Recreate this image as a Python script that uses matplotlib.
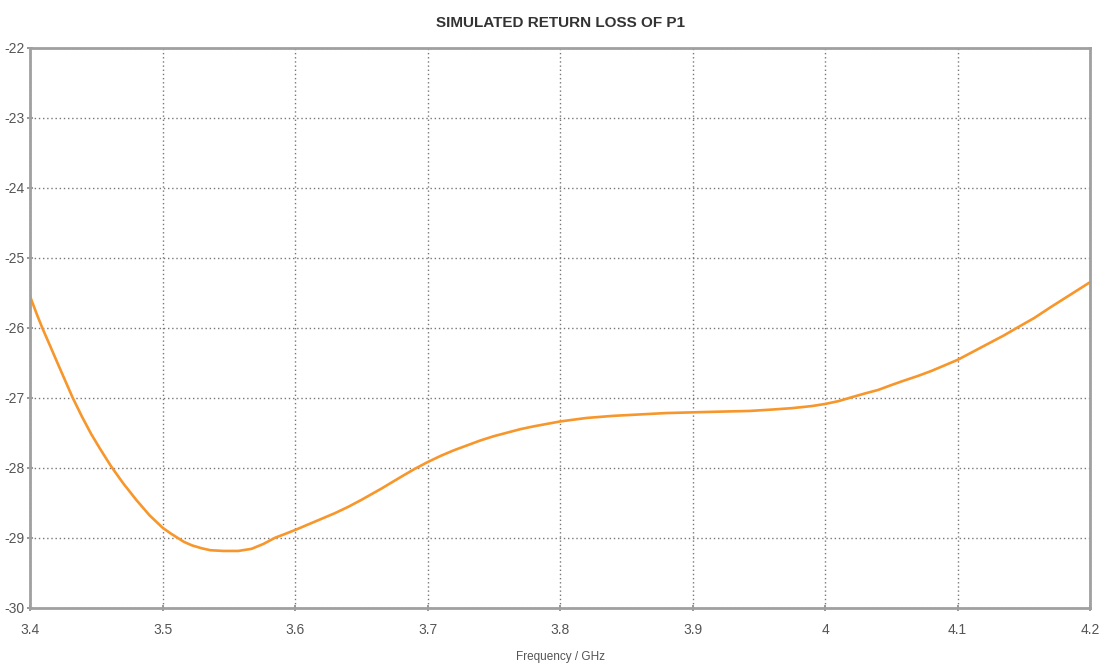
import matplotlib.pyplot as plt
from matplotlib.ticker import FormatStrFormatter, FuncFormatter

# S11 of port P1, read from the simulator sweep
freq_ghz = [3.400, 3.405, 3.409, 3.415, 3.420, 3.426, 3.432, 3.439, 3.446,
            3.453, 3.461, 3.470, 3.480, 3.490, 3.500, 3.506, 3.511, 3.516,
            3.522, 3.529, 3.536, 3.546, 3.557, 3.567, 3.576, 3.585, 3.592,
            3.600, 3.610, 3.620, 3.630, 3.640, 3.650, 3.665, 3.680, 3.690,
            3.700, 3.710, 3.720, 3.730, 3.740, 3.750, 3.770, 3.780, 3.800,
            3.820, 3.840, 3.860, 3.880, 3.900, 3.920, 3.943, 3.960, 3.975,
            3.990, 4.000, 4.010, 4.019, 4.030, 4.040, 4.050, 4.059, 4.070,
            4.080, 4.090, 4.100, 4.112, 4.123, 4.135, 4.145, 4.158, 4.170,
            4.185, 4.200]
return_loss_db = [-25.56, -25.81, -26.00, -26.26, -26.48, -26.74, -27.00,
                  -27.27, -27.52, -27.74, -27.98, -28.22, -28.46, -28.68,
                  -28.86, -28.94, -29.00, -29.06, -29.11, -29.15, -29.18,
                  -29.19, -29.19, -29.16, -29.09, -29.00, -28.95, -28.89,
                  -28.81, -28.73, -28.65, -28.56, -28.46, -28.30, -28.13,
                  -28.02, -27.92, -27.83, -27.75, -27.68, -27.61, -27.55,
                  -27.45, -27.41, -27.34, -27.29, -27.26, -27.24, -27.22,
                  -27.21, -27.20, -27.19, -27.17, -27.15, -27.12, -27.09,
                  -27.05, -27.00, -26.94, -26.89, -26.82, -26.76, -26.69,
                  -26.62, -26.54, -26.46, -26.34, -26.23, -26.11, -26.00,
                  -25.86, -25.71, -25.53, -25.35]

x_ticks = [3.4, 3.5, 3.6, 3.7, 3.8, 3.9, 4.0, 4.1, 4.2]
y_ticks = [-30, -29, -28, -27, -26, -25, -24, -23, -22]

plt.rcParams['font.family'] = ['Liberation Sans', 'DejaVu Sans']

fig = plt.figure(figsize=(11, 6.67), dpi=100)
ax = fig.add_axes([0.0275, 0.089, 0.9635, 0.8395])

ax.plot(freq_ghz, return_loss_db, color='#F7962B', lw=1.9,
        solid_capstyle='round', solid_joinstyle='round')

ax.set_xlim(3.4, 4.2)
ax.set_ylim(-30, -22)
ax.set_xticks(x_ticks)
ax.set_yticks(y_ticks)
ax.xaxis.set_major_formatter(FuncFormatter(lambda v, p: '%g' % round(v, 2)))
ax.yaxis.set_major_formatter(FormatStrFormatter('%d'))

ax.grid(True, color='#777777', linestyle=(0, (1, 2)), linewidth=1.0)
for side in ax.spines.values():
    side.set_color('#A0A0A0')
    side.set_linewidth(2.0)

ax.tick_params(axis='both', direction='inout', length=4, width=1.2,
               color='#888888', labelcolor='#555555', labelsize=10)
ax.tick_params(axis='x', pad=9)
ax.tick_params(axis='y', pad=2)

ax.set_title('SIMULATED RETURN LOSS OF P1', fontsize=11, color='#333333',
             fontweight='bold', pad=15)
ax.set_xlabel('Frequency / GHz', fontsize=8.5, color='#555555', labelpad=10)

fig.savefig('out.png', dpi=100)
